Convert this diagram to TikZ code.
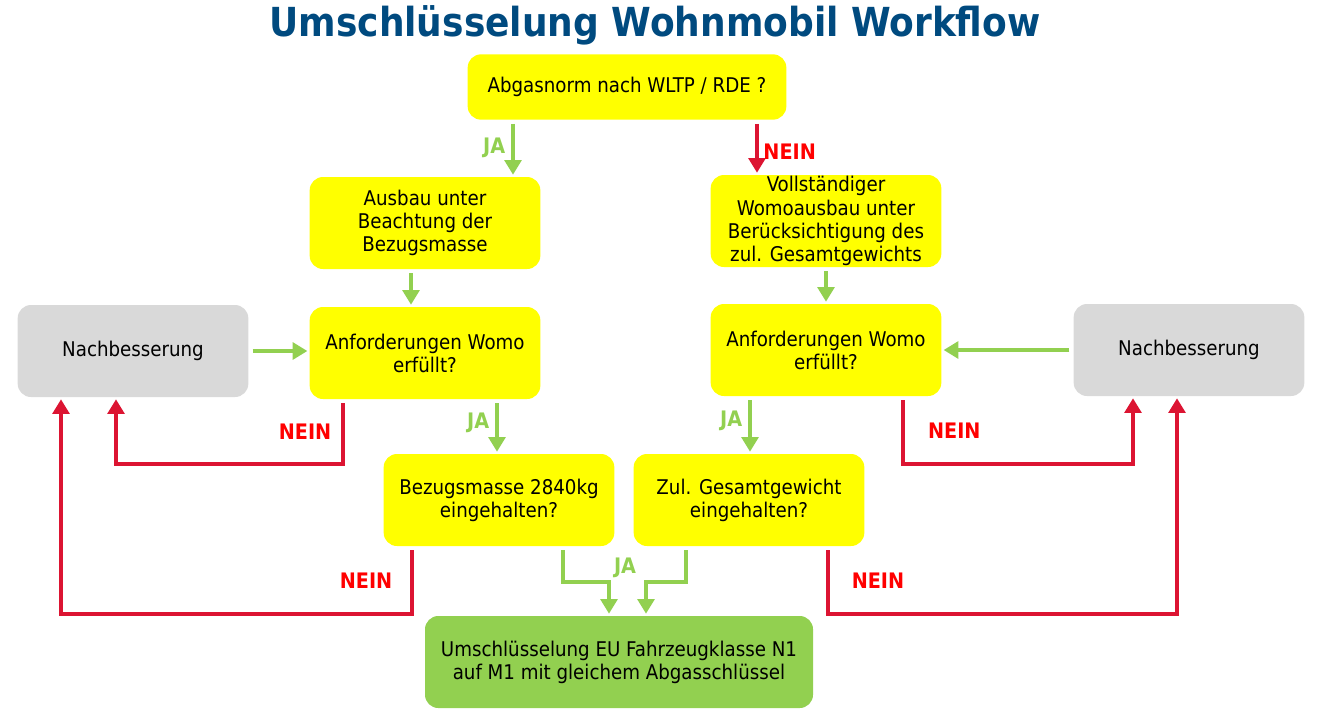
\documentclass[tikz,border=0pt]{standalone}
\usepackage{fontspec}
\setmainfont{DejaVu Sans Condensed}
\usetikzlibrary{arrows.meta,calc}
\definecolor{gelb}{HTML}{FFFF00}
\definecolor{grau}{HTML}{D9D9D9}
\definecolor{gruen}{HTML}{92D050}
\definecolor{rot}{HTML}{DC1432}
\definecolor{neinrot}{HTML}{FF0000}
\definecolor{titelblau}{HTML}{004A7F}

\begin{document}
\begin{tikzpicture}[x=0.75pt,y=-0.75pt,
  box/.style={rounded corners=10pt, minimum width=173pt, minimum height=69pt,
    align=center, inner sep=1pt, font=\fontsize{15.2}{17.3}\selectfont},
  frage/.style={box, fill=gelb},
  nach/.style={box, fill=grau},
  ziel/.style={box, fill=gruen, minimum width=291pt},
  ja/.style={draw=gruen, line width=3pt, -{Triangle[width=12.5pt,length=11pt]},
    shorten <=3pt, shorten >=1.5pt},
  nein/.style={draw=rot, line width=3pt, -{Triangle[width=12.5pt,length=11pt]},
    shorten <=3pt, shorten >=1.5pt},
  jatext/.style={text=gruen, font=\bfseries\fontsize{16}{18}\selectfont},
  neintext/.style={text=neinrot, font=\bfseries\fontsize{16}{18}\selectfont}]
\useasboundingbox (0,0) rectangle (1323,711);

\node[text=titelblau, font=\bfseries\fontsize{30}{36}\selectfont] (titel) at (655,25)
  {Umschlüsselung Wohnmobil Workflow};

% boxes
\node[frage, minimum width=239pt, minimum height=49pt] (top) at (627,87)
  {Abgasnorm nach WLTP / RDE ?};
\node[frage] (ausbau) at (425,223) {Ausbau unter\\Beachtung der\\Bezugsmasse};
\node[frage] (voll) at (826,221)
  {Vollständiger\\Womoausbau unter\\Berücksichtigung des\\zul. Gesamtgewichts};
\node[nach] (nachL) at (133,351) {Nachbesserung};
\node[frage] (anfL) at (425,353) {Anforderungen Womo\\erfüllt?};
\node[frage] (anfR) at (826,350) {Anforderungen Womo\\erfüllt?};
\node[nach] (nachR) at (1189,350) {Nachbesserung};
\node[frage] (bez) at (499,500) {Bezugsmasse 2840kg\\eingehalten?};
\node[frage] (zul) at (749,500) {Zul. Gesamtgewicht\\eingehalten?};
\node[ziel] (ende) at (619,662)
  {Umschlüsselung EU Fahrzeugklasse N1\\auf M1 mit gleichem Abgasschlüssel};

% top split
\coordinate (a1) at ($(top.south)+(-114,0)$);
\coordinate (a2) at ($(top.south)+(130,0)$);
\draw[ja] (a1) -- (a1 |- ausbau.north) node[jatext, midway, left, xshift=-1pt] {JA};
\draw[nein] (a2) -- (a2 |- voll.north) node[neintext, midway, right, xshift=0pt, yshift=-3pt] {NEIN};

% down to requirements
\coordinate (a3) at ($(ausbau.south)+(-14,0)$);
\draw[ja] (a3) -- (a3 |- anfL.north);
\draw[ja] (voll.south) -- (anfR.north);

% rework back in
\draw[ja] (nachL.east) -- (nachL.east -| anfL.west);
\draw[ja] (nachR.west) -- (nachR.west -| anfR.east);

% requirements not met
\coordinate (b1) at ($(anfL.south)+(-82,0)$);
\coordinate (b1e) at ($(nachL.south)+(-17,0)$);
\draw[nein] (b1) -- ++(0,65) node[neintext, midway, left, xshift=-4pt] {NEIN} -| (b1e);
\coordinate (b2) at ($(anfR.south)+(77,0)$);
\coordinate (b2e) at ($(nachR.south)+(-56,0)$);
\draw[nein] (b2) -- ++(0,68) node[neintext, midway, right, xshift=14pt] {NEIN} -| (b2e);

% requirements met
\coordinate (c1) at ($(anfL.south)+(72,0)$);
\draw[ja] (c1) -- (c1 |- bez.north) node[jatext, midway, left, xshift=-1pt, yshift=3pt] {JA};
\coordinate (c2) at ($(anfR.south)+(-76,0)$);
\draw[ja] (c2) -- (c2 |- zul.north) node[jatext, midway, left, xshift=-1pt, yshift=3pt] {JA};

% limits not kept
\coordinate (d1) at ($(bez.south)+(-87,0)$);
\coordinate (d1e) at ($(nachL.south)+(-72,0)$);
\draw[nein] (d1) -- ++(0,68) node[neintext, midway, left, xshift=-10pt] {NEIN} -| (d1e);
\coordinate (d2) at ($(zul.south)+(79,0)$);
\coordinate (d2e) at ($(nachR.south)+(-12,0)$);
\draw[nein] (d2) -- ++(0,68) node[neintext, midway, right, xshift=13pt] {NEIN} -| (d2e);

% limits kept
\coordinate (e1) at ($(bez.south)+(64,0)$);
\coordinate (e1e) at ($(ende.north)+(-10,0)$);
\draw[ja] (e1) -- ++(0,36) -| (e1e);
\coordinate (e2) at ($(zul.south)+(-63,0)$);
\coordinate (e2e) at ($(ende.north)+(27,0)$);
\draw[ja] (e2) -- ++(0,36) -| (e2e);
\node[jatext] (jaM) at ($(bez.south)!0.5!(zul.south)+(1,22)$) {JA};
\end{tikzpicture}
\end{document}
